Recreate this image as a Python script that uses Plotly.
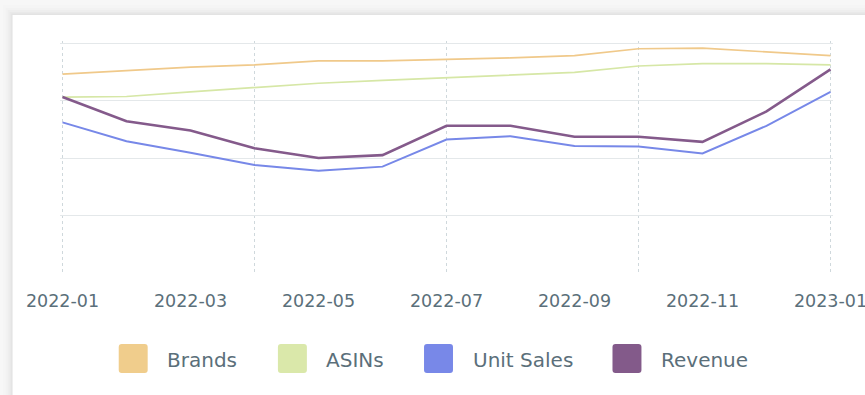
import plotly.graph_objects as go

# Monthly series, Jan 2022 – Jan 2023 (indexed values)
months = ["2022-01", "2022-02", "2022-03", "2022-04", "2022-05", "2022-06", "2022-07",
          "2022-08", "2022-09", "2022-10", "2022-11", "2022-12", "2023-01"]
brands = [3.46, 3.52, 3.58, 3.62, 3.69, 3.69, 3.71, 3.74, 3.78, 3.90, 3.91, 3.85, 3.78]
asins = [3.06, 3.07, 3.15, 3.22, 3.30, 3.35, 3.40, 3.45, 3.49, 3.60, 3.64, 3.64, 3.62]
unit_sales = [2.62, 2.29, 2.09, 1.88, 1.78, 1.85, 2.32, 2.38, 2.21, 2.20, 2.08, 2.56, 3.15]
revenue = [3.06, 2.64, 2.48, 2.17, 2.00, 2.05, 2.56, 2.56, 2.37, 2.37, 2.28, 2.81, 3.54]

series_names = ["Brands", "ASINs", "Unit Sales", "Revenue"]
series_values = [brands, asins, unit_sales, revenue]
line_colors = ["#F0C98A", "#D6E7A6", "#7788E8", "#845A8B"]
box_colors = ["#F0CD8C", "#DAE8AA", "#7888E8", "#835A8A"]
line_widths = [1.7, 1.7, 2.0, 2.6]

W, H = 865, 395
# plot area spans x 62..831 and y 43..273 for the value range; a small pad
# on every side keeps the edge gridlines inside the drawing area
PAD_X, PAD_Y = 2.5, 2.0
ML, MR, MT, MB = 62 - PAD_X, 34 - PAD_X, 43 - PAD_Y, 122 - PAD_Y
PW, PH = W - ML - MR, H - MT - MB
MONTH_PX = (831 - 62) / (len(months) - 1)
UNIT_PX = 230 / 4


def px_x(px):
    return (px - ML) / PW


def px_y(py):
    return (H - MB - py) / PH


def rounded_rect(x0, y0, x1, y1, r):
    # corners given in pixels (y down); path returned in paper coordinates
    X, Y = px_x, px_y
    return (f"M {X(x0 + r)} {Y(y0)} L {X(x1 - r)} {Y(y0)} "
            f"Q {X(x1)} {Y(y0)} {X(x1)} {Y(y0 + r)} "
            f"L {X(x1)} {Y(y1 - r)} Q {X(x1)} {Y(y1)} {X(x1 - r)} {Y(y1)} "
            f"L {X(x0 + r)} {Y(y1)} Q {X(x0)} {Y(y1)} {X(x0)} {Y(y1 - r)} "
            f"L {X(x0)} {Y(y0 + r)} Q {X(x0)} {Y(y0)} {X(x0 + r)} {Y(y0)} Z")


x_idx = list(range(len(months)))

fig = go.Figure()
for name, vals, col, lw in zip(series_names, series_values, line_colors, line_widths):
    fig.add_trace(go.Scatter(
        x=x_idx, y=vals, name=name, mode="lines",
        line=dict(color=col, width=lw), showlegend=False,
    ))

shapes = []
# card shadow and card
for inset, alpha in [(10, 0.008), (7, 0.012), (5, 0.016), (3, 0.02), (1.5, 0.025)]:
    shapes.append(dict(
        type="rect", xref="paper", yref="paper", layer="below",
        x0=px_x(12 - inset), x1=px_x(W + 40), y0=px_y(H + 40), y1=px_y(15 - inset),
        fillcolor=f"rgba(0,0,0,{alpha})", line=dict(width=0),
    ))
shapes.append(dict(
    type="rect", xref="paper", yref="paper", layer="below",
    x0=px_x(12), x1=px_x(W + 40), y0=px_y(H + 40), y1=px_y(15),
    fillcolor="#FFFFFF", line=dict(width=0),
))

# legend swatches and labels
legend_box_x = [118.3, 277.7, 424.0, 612.7]
legend_text_x = [165.0, 324.3, 471.0, 659.0]
box_size = 29
box_top = 344
annotations = []
for bx, tx, name, col in zip(legend_box_x, legend_text_x, series_names, box_colors):
    shapes.append(dict(
        type="path", xref="paper", yref="paper", layer="above",
        path=rounded_rect(bx, box_top, bx + box_size, box_top + box_size, 3),
        fillcolor=col, line=dict(width=0),
    ))
    annotations.append(dict(
        xref="paper", yref="paper", x=px_x(tx), y=px_y(box_top + box_size / 2 + 1),
        xanchor="left", yanchor="middle", text=name, showarrow=False,
        font=dict(family="DejaVu Sans", size=20, color="#5B6F7A"),
    ))

fig.update_layout(
    width=W, height=H,
    margin=dict(l=ML, r=MR, t=MT, b=MB, pad=0),
    paper_bgcolor="#F7F7F7",
    plot_bgcolor="rgba(0,0,0,0)",
    shapes=shapes,
    annotations=annotations,
    showlegend=False,
    xaxis=dict(
        range=[-PAD_X / MONTH_PX, len(months) - 1 + PAD_X / MONTH_PX],
        tickmode="array",
        tickvals=x_idx[::2],
        ticktext=months[::2],
        showgrid=False,
        zeroline=False,
        showline=False,
        ticks="outside", ticklen=10, tickcolor="rgba(0,0,0,0)",
        tickfont=dict(family="DejaVu Sans", size=17.5, color="#5B6F7A"),
        ticklabeloverflow="allow",
        automargin=False,
        minor=dict(tickmode="array", tickvals=x_idx[::3], showgrid=True,
                   gridcolor="#CFD8DC", griddash="dot", gridwidth=1, ticks=""),
        fixedrange=True,
    ),
    yaxis=dict(
        range=[-PAD_Y / UNIT_PX, 4 + PAD_Y / UNIT_PX],
        tickmode="array",
        tickvals=[1, 2, 3, 4],
        showticklabels=False,
        showgrid=True,
        gridcolor="#E4E8EA",
        gridwidth=1,
        zeroline=False,
        showline=False,
        automargin=False,
        fixedrange=True,
    ),
)

fig.write_html("out.html", config={"displayModeBar": False})
